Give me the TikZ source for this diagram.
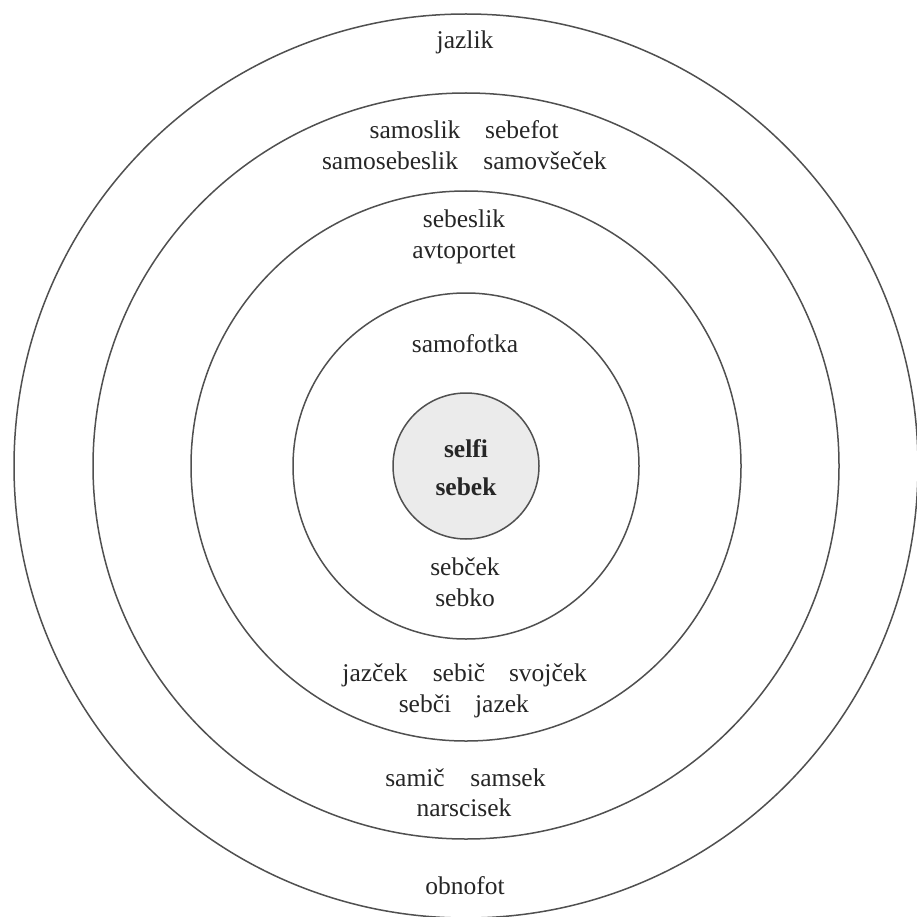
\documentclass[tikz,border=0pt]{standalone}
\usepackage{fontspec}
\setmainfont{Liberation Serif}
\definecolor{ringcol}{HTML}{505050}
\definecolor{corefill}{HTML}{EBEBEB}
\tikzset{
  ring/.style={draw=ringcol, line width=1.5pt},
  word/.style={anchor=base, inner sep=0pt, font=\fontsize{25.5}{30}\selectfont, text=black!85},
  bword/.style={word, font=\fontsize{25.5}{30}\selectfont\bfseries}
}
\begin{document}
\begin{tikzpicture}[x=1pt,y=-1pt]
\useasboundingbox (0,0) rectangle (917,917);
\fill[white] (0,0) rectangle (917,917);
\coordinate (c) at (466,466);
\draw[ring] (c) circle[radius=452];
\draw[ring] (c) circle[radius=373];
\draw[ring] (c) circle[radius=275];
\draw[ring] (c) circle[radius=173];
\draw[ring, fill=corefill] (c) circle[radius=73];
% ring 5
\node[word] (jazlik) at (465,49) {jazlik};
\node[word] (obnofot) at (465,894) {obnofot};
% ring 4
\node[word] (samoslik) at (415,139) {samoslik};
\node[word] (sebefot) at (522,139) {sebefot};
\node[word] (samosebeslik) at (390,170) {samosebeslik};
\node[word] (samovsecek) at (545,170) {samovšeček};
\node[word] (samic) at (415,786) {samič};
\node[word] (samsek) at (508,786) {samsek};
\node[word] (narscisek) at (464,816) {narscisek};
% ring 3
\node[word] (sebeslik) at (464,228) {sebeslik};
\node[word] (avtoportet) at (464,258) {avtoportet};
\node[word] (jazcek) at (375,681) {jazček};
\node[word] (sebic) at (459,681) {sebič};
\node[word] (svojcek) at (548,681) {svojček};
\node[word] (sebci) at (425,712) {sebči};
\node[word] (jazek) at (502,712) {jazek};
% ring 2
\node[word] (samofotka) at (465,352) {samofotka};
\node[word] (sebcek) at (465,575) {sebček};
\node[word] (sebko) at (465,606) {sebko};
% core
\node[bword] (selfi) at (466,457) {selfi};
\node[bword] (sebek) at (466,495) {sebek};
\end{tikzpicture}
\end{document}
